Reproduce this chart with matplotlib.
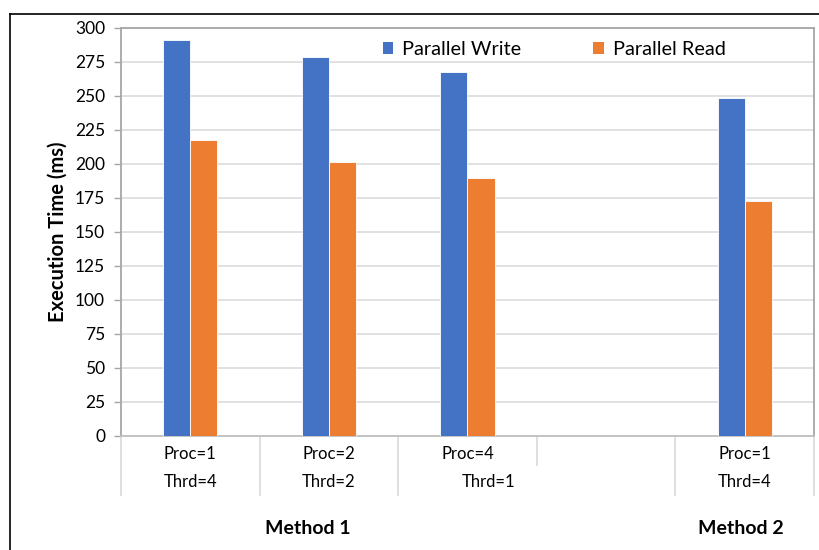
import matplotlib
matplotlib.use("Agg")
import matplotlib.pyplot as plt
import numpy as np
from matplotlib.lines import Line2D
from matplotlib.patches import Patch
import matplotlib.transforms as mtransforms

plt.rcParams['font.family'] = ['Lato', 'DejaVu Sans']

proc_labels = ["Proc=1", "Proc=2", "Proc=4", "", "Proc=1"]
thrd_labels = ["Thrd=4", "Thrd=2", "", "", "Thrd=4"]
merged_thrd_label = "Thrd=1"
group_labels = ["Method 1", "Method 2"]
parallel_write = [291.5, 278.5, 267.5, np.nan, 248.5]
parallel_read = [217.5, 201.5, 189.5, np.nan, 172.5]
y_ticks = [0, 25, 50, 75, 100, 125, 150, 175, 200, 225, 250, 275, 300]

blue = "#4472C4"
orange = "#ED7D31"
grid_c = "#D9D9D9"
frame_c = "#A6A6A6"

fig = plt.figure(figsize=(8.2, 5.5), dpi=100)
ax = fig.add_axes([121/820, 1-436/550, (814-121)/820, (436-28)/550])

x = np.arange(len(proc_labels))
w = 0.195
ax.bar(x - w/2, parallel_write, width=w, color=blue, edgecolor="white", linewidth=0.6, label="Parallel Write", zorder=3)
ax.bar(x + w/2, parallel_read, width=w, color=orange, edgecolor="white", linewidth=0.6, label="Parallel Read", zorder=3)

ax.set_xlim(-0.5, len(proc_labels) - 0.5)
ax.set_ylim(0, 300)
ax.set_yticks(y_ticks)
ax.tick_params(axis='y', labelsize=12.5, length=5, color=frame_c, width=1, pad=6.5, labelcolor="#000000")
ax.set_xticks([])
ax.yaxis.grid(True, color=grid_c, linewidth=1.1, zorder=0)
ax.set_axisbelow(True)
for s in ax.spines.values():
    s.set_color(frame_c)
    s.set_linewidth(1.3)
ax.spines['bottom'].set_color("#BFBFBF")

ax.set_ylabel("Execution Time (ms)", fontsize=14.5, fontweight="bold", labelpad=5)

trans = mtransforms.blended_transform_factory(ax.transData, ax.transAxes)
ah = (436-28)
def ay(py):
    return (436 - py) / ah

# category table
for i, (p, t) in enumerate(zip(proc_labels, thrd_labels)):
    if p:
        ax.text(i, ay(454), p, transform=trans, ha="center", va="center", fontsize=12)
    if t:
        ax.text(i, ay(482), t, transform=trans, ha="center", va="center", fontsize=12)
ax.text(2.15, ay(482), merged_thrd_label, transform=trans, ha="center", va="center", fontsize=12)

bounds = np.arange(len(proc_labels) + 1) - 0.5
for b in bounds:
    ybot = ay(465) if b == 2.5 else ay(495)
    ax.add_line(Line2D([b, b], [0, ybot], transform=trans, color="#D9D9D9", linewidth=1.2, clip_on=False))

ax.text(0.85, ay(528), group_labels[0], transform=trans, ha="center", va="center", fontsize=14, fontweight="bold")
ax.text(3.97, ay(528), group_labels[1], transform=trans, ha="center", va="center", fontsize=14, fontweight="bold")

handles = [Patch(facecolor=blue), Patch(facecolor=orange)]
leg = ax.legend(handles, ["Parallel Write", "Parallel Read"], loc="upper center",
                bbox_to_anchor=(0.625, 1.012), ncol=2, frameon=False, fontsize=14.3,
                handlelength=0.55, handleheight=0.55, handletextpad=0.45, columnspacing=3.6)

# outer border (partially visible frame)
fig.add_artist(Line2D([10/820, 1.0], [1-14/550, 1-14/550], transform=fig.transFigure, color="black", linewidth=1.2))
fig.add_artist(Line2D([10/820, 10/820], [0.0, 1-14/550], transform=fig.transFigure, color="black", linewidth=1.2))

fig.savefig("out.png", dpi=100, facecolor="white")
